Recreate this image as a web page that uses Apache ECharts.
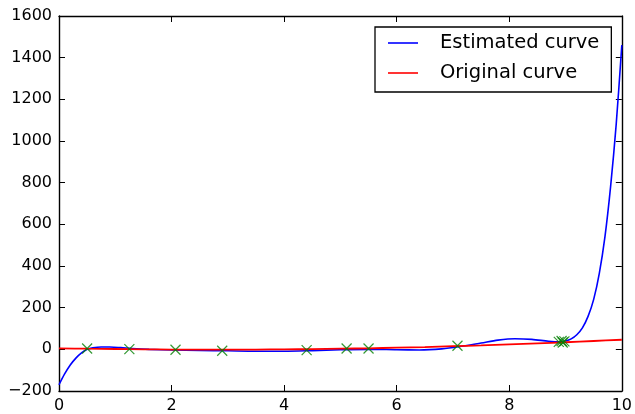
<!DOCTYPE html>
<html><head><meta charset="utf-8">
<script src="https://cdn.jsdelivr.net/npm/echarts@6/dist/echarts.min.js"></script>
<style>html,body{margin:0;padding:0;background:#fff}#c{width:635px;height:414px}</style>
</head><body><div id="c"></div>
<script>
var estX = [0,0.1,0.2,0.3,0.4,0.5,0.6,0.75,0.9,1.1,1.3,1.6,2.0,2.5,3.0,3.5,4.0,4.5,5.0,5.5,6.0,6.4,6.8,7.1,7.5,7.8,8.1,8.4,8.7,8.9,9.0,9.1,9.2,9.3,9.4,9.5,9.6,9.7,9.8,9.9,10];
var estY = [-170,-118,-75,-42,-17,0,7,11,11,8,4,0,-3,-5,-7,-9,-9,-6,-2,0,-2,-3,2,12,30,44,51,48,39,36,40,50,70,103,158,240,365,540,780,1080,1460];
var origX = [0,0.5,1,1.5,2,2.5,3,3.5,4,4.5,5,5.5,6,6.5,7,7.5,8,8.5,9,9.5,10];
var origY = [5,3,1.5,0,-1,-1.5,-1.5,-1,0,1,3,5,8,11,15,19,24,29,34,40,46];
var sampleX = [0.50,1.25,2.07,2.90,4.40,5.11,5.50,7.08,8.88,8.93,8.98,8.95];
var sampleY = [4,1,-2,-7,-4,4,4,17,36,40,38,33];
var xTicks = {min:0,max:10,interval:2};
var yTicks = {min:-200,max:1600,interval:200};
var seriesNames = ['Estimated curve','Original curve'];

function pairs(xs, ys){ return xs.map(function(x,i){return [x, ys[i]];}); }
var font = 'DejaVu Sans';
var tickCommon = {inside:true, length:6, lineStyle:{color:'#000',width:1}};
var lineCommon = {show:true, onZero:false, lineStyle:{color:'#000',width:1.4}};
var chart = echarts.init(document.getElementById('c'), null, {renderer:'canvas'});
chart.setOption({
  animation:false,
  backgroundColor:'#fff',
  grid:{left:59,right:12,top:16,bottom:22,containLabel:false},
  xAxis:[
    {type:'value',min:xTicks.min,max:xTicks.max,interval:xTicks.interval,position:'bottom',
     axisLine:lineCommon,axisTick:tickCommon,splitLine:{show:false},
     axisLabel:{margin:7,color:'#000',fontFamily:font,fontSize:16}},
    {type:'value',min:xTicks.min,max:xTicks.max,interval:xTicks.interval,position:'top',
     axisLine:lineCommon,axisTick:tickCommon,splitLine:{show:false},axisLabel:{show:false}}
  ],
  yAxis:[
    {type:'value',min:yTicks.min,max:yTicks.max,interval:yTicks.interval,position:'left',
     axisLine:lineCommon,axisTick:tickCommon,splitLine:{show:false},
     axisLabel:{margin:7,color:'#000',fontFamily:font,fontSize:16,
       formatter:function(v){return String(v).replace('-','\u2212');}}},
    {type:'value',min:yTicks.min,max:yTicks.max,interval:yTicks.interval,position:'right',
     axisLine:lineCommon,axisTick:tickCommon,splitLine:{show:false},axisLabel:{show:false}}
  ],
  legend:{
    data:[{name:seriesNames[0],icon:'rect'},{name:seriesNames[1],icon:'rect'}],
    orient:'vertical',left:375,top:27,
    itemWidth:30,itemHeight:1.6,itemGap:10,
    padding:[6,12,9,13],
    borderColor:'#000',borderWidth:1.3,borderRadius:0,backgroundColor:'#fff',
    textStyle:{fontFamily:font,fontSize:19.5,color:'#000',lineHeight:20,padding:[0,0,0,17]}
  },
  series:[
    {name:seriesNames[0],type:'line',data:pairs(estX,estY),smooth:0.3,symbol:'none',
     lineStyle:{color:'#0000ff',width:1.6},itemStyle:{color:'#0000ff'},z:2},
    {name:seriesNames[1],type:'line',data:pairs(origX,origY),smooth:0.3,symbol:'none',
     lineStyle:{color:'#ff0000',width:1.8},itemStyle:{color:'#ff0000'},z:3},
    {name:'samples',type:'scatter',data:pairs(sampleX,sampleY),
     symbol:'path://M0,0L10,10M10,0L0,10',symbolSize:10,
     itemStyle:{color:'rgba(0,0,0,0)',borderColor:'#008000',borderWidth:1.2},z:4}
  ]
});
</script></body></html>
